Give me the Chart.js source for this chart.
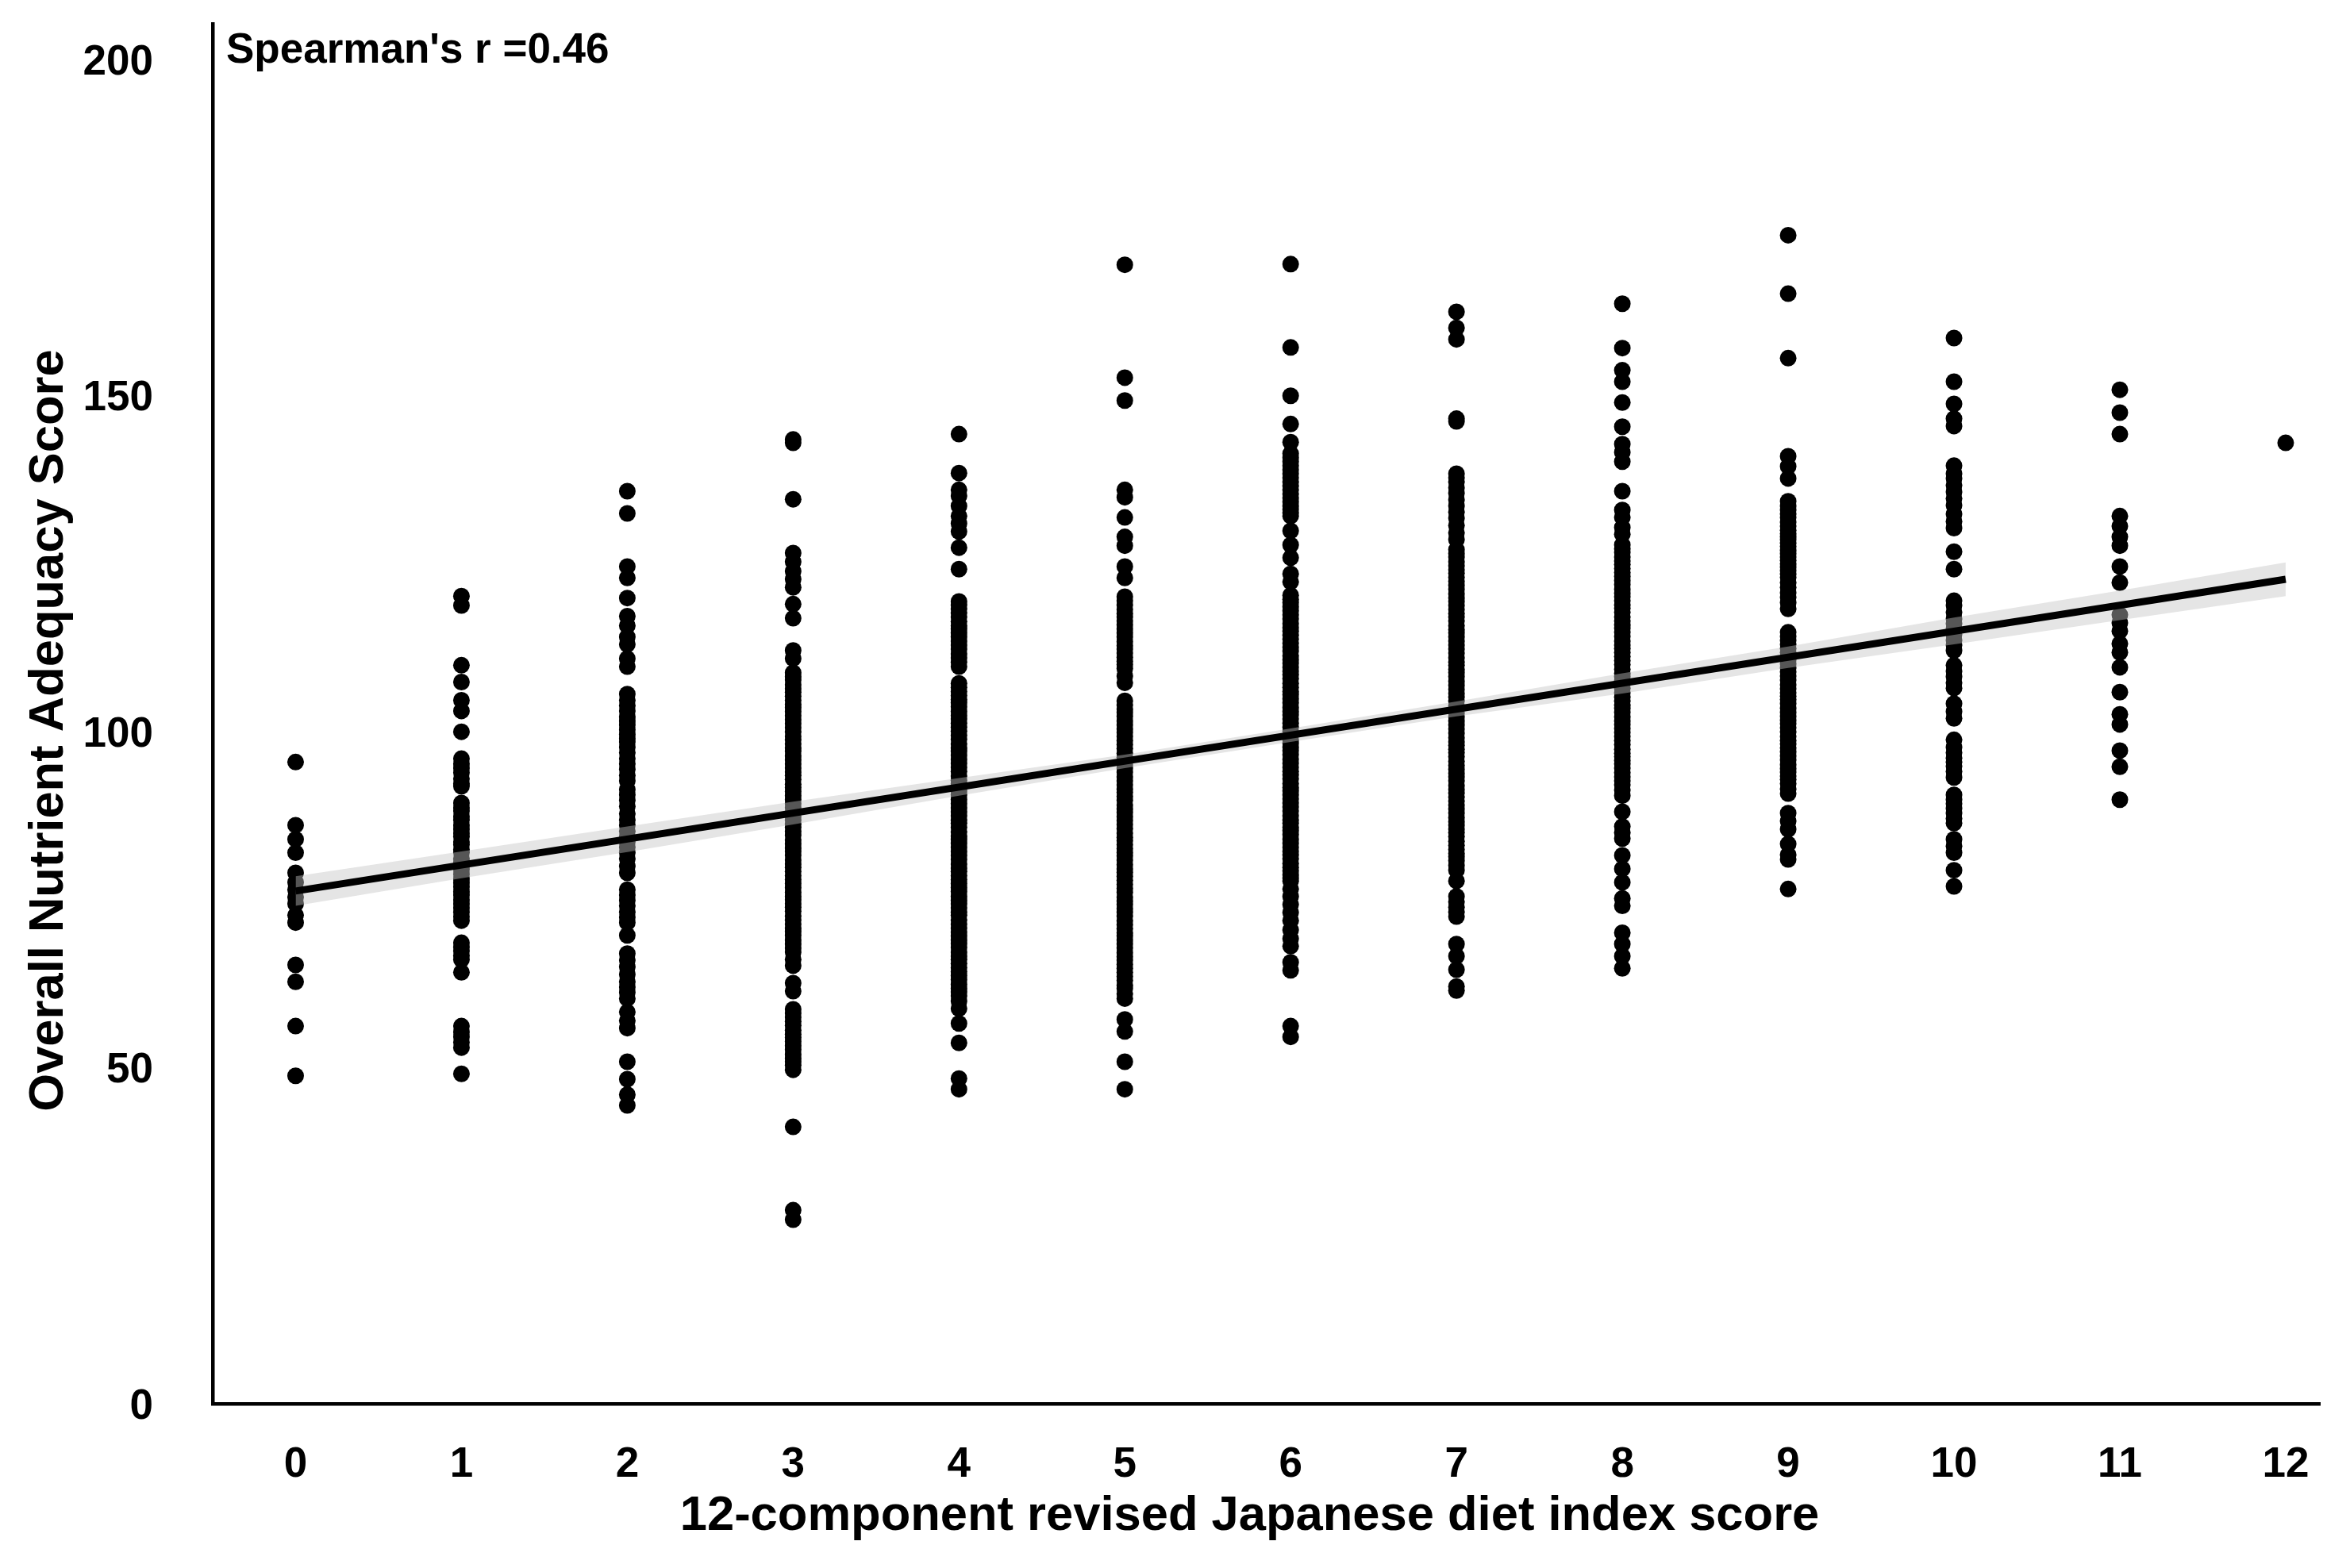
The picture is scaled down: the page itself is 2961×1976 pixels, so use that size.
<!DOCTYPE html>
<html>
<head>
<meta charset="utf-8">
<title>Nutrient adequacy vs diet index</title>
<script src="https://cdn.jsdelivr.net/npm/chart.js@4"></script>
<style>
    html, body { margin: 0; padding: 0; background: #fff; }
    canvas { display: block; }
</style>
</head>
<body>
<canvas id="scoreChart" width="2961" height="1976"></canvas>
<script>
// values, one list per diet index score
const score0 = [95.5, 86.1, 84, 82, 79, 77.6, 76.5, 75.4, 74.4, 72.7, 71.6, 65.3, 62.8, 56.2, 48.8];
const score1 = [120.2, 118.8, 109.9, 107.4, 104.7, 103.1, 100, 96, 95.2, 94.6, 93.9, 93, 92.3, 91.9, 89.4, 88.7, 88.2, 87.4, 86.9, 86.1, 85.5, 84.9, 84.4, 83.6, 83.2, 82.5, 82, 81.1, 80.6, 80, 79.5, 78.8, 78.1, 77.5, 76.9, 76.2, 75.7, 75, 74.4, 73.8, 73.2, 72.5, 71.9, 68.6, 68, 67.4, 66.7, 66.1, 64.2, 56.2, 55.3, 54.6, 53.8, 53, 49.1];
const score2 = [135.8, 132.5, 124.6, 122.9, 119.9, 117.2, 115.8, 114.1, 113, 110.9, 109.7,
    105.6, 104.7, 103.9, 103.1, 102.2, 101.6, 101, 100.3, 99.6, 99, 98.5, 97.7, 96.9, 96, 95.2, 94.4, 93.5, 92.7, 91.4, 90.6, 89.8, 88.9, 87.8, 86.9, 86.1, 85.2, 84.4, 83.6, 82.8, 82, 81.1, 80, 79, 76.5, 75.7, 74.9, 74.1, 73.2, 72.4, 71.6, 69.7, 67, 66, 65, 63.9, 62.8, 62, 61.2, 60.3, 58.3, 57, 55.9, 50.9, 48.3, 46, 44.4];
const score3 = [143.5, 143, 134.6, 126.6, 125.3, 123.9, 122.7, 121.5, 119, 116.9, 112.1, 110.9,
    108.8, 108.2, 107.7, 107, 106.4, 105.9, 105.3, 104.7, 104.1, 103.6, 103, 102.4, 101.8, 101.2, 100.6, 100, 99.3, 98.8, 98.2, 97.6, 97.1, 96.4, 95.8, 95.2, 94.6, 94, 93.5, 92.9, 92.2, 91.7, 91.1, 90.5, 89.9, 89.3, 88.7, 88, 87.4, 86.9, 86.3, 85.8, 85.2, 84.6, 83.9, 83.3, 82.7, 82.2, 81.6, 80.9, 80.3, 79.8, 79.2, 78.6, 78, 77.4, 76.8, 76.1, 75.5, 75, 74.4, 73.9, 73.3, 72.6, 72, 71.4, 70.8, 70.3, 69.7, 69, 68.4, 67.8, 67.2, 66.1, 65.2,
    62.6, 61.4, 58.7, 58.1, 57.5, 56.9, 56.3, 55.6, 55, 54.5, 53.9, 53.3, 52.7, 52, 51.4, 50.9, 50.4, 49.7, 41.2, 28.8, 27.4];
const score4 = [144.3, 138.5, 136, 135.1, 133.6, 132.1, 131, 129.8, 127.4, 124.2,
    119.4, 118.9, 118.3, 117.7, 117.1, 116.4, 115.8, 115.3, 114.7, 114.1, 113.5, 112.9, 112.3, 111.6, 111, 110.4, 109.7,
    107.2, 106.6, 106, 105.4, 104.8, 104.3, 103.7, 103, 102.4, 101.9, 101.3, 100.7, 100.1, 99.5, 98.9, 98.2, 97.6, 97.1, 96.5, 95.9, 95.3, 94.7, 94.1, 93.4, 92.8, 92.3, 91.7, 91.2, 90.6, 89.9, 89.3, 88.7, 88.1, 87.5, 86.9, 86.4, 85.8, 85.1, 84.5, 84, 83.4, 82.8, 82.2, 81.6, 81, 80.3, 79.7, 79.2, 78.6, 78, 77.4, 76.8, 76.2, 75.5, 74.9, 74.4, 73.8, 73.2, 72.7, 72, 71.4, 70.8, 70.2, 69.6, 69, 68.5, 67.9, 67.2, 66.6, 66.1, 65.5, 64.9, 64.3, 63.7, 63.1, 62.4, 61.8, 61.3, 60.7, 59.9, 58.8, 56.6, 53.7, 48.4, 46.8];
const score5 = [169.5, 152.7, 149.3, 136, 134.9, 131.9, 129, 127.7, 124.6, 122.9,
    120.1, 119.5, 118.9, 118.2, 117.6, 117.1, 116.5, 115.9, 115.3, 114.7, 114.1, 113.4, 112.8, 112.3, 111.7, 111.1, 110.5, 110, 109.4, 108.3, 107.3,
    104.6, 104, 103.4, 102.9, 102.3, 101.6, 101, 100.4, 99.9, 99.3, 98.7, 98.1, 97.5, 96.8, 96.2, 95.7, 95.1, 94.6, 94, 93.3, 92.7, 92.1, 91.5, 91, 90.4, 89.8, 89.1, 88.5, 88, 87.4, 86.8, 86.2, 85.6, 84.9, 84.3, 83.8, 83.2, 82.6, 82, 81.5, 80.9, 80.2, 79.6, 79.1, 78.5, 77.9, 77.3, 76.7, 76.1, 75.4, 74.8, 74.3, 73.7, 73.2, 72.6, 71.9, 71.3, 70.7, 70.1, 69.6, 69, 68.4, 67.8, 67.1, 66.5, 66, 65.4, 64.8, 64.2, 63.6, 63, 62.3, 61.8, 61, 60.3, 57.2, 55.4, 50.9, 46.8];
const score6 = [169.6, 157.2, 150, 145.8, 143.1, 141.4, 140.8, 140.2, 139.6, 139, 138.4, 137.8, 137.2, 136.6, 136, 135.4, 134.8, 134.2, 133.6, 133.1, 132.6, 132.1, 129.9, 127.8, 125.9, 123.5, 122.3,
    120.3, 119.7, 119.2, 118.6, 118, 117.4, 116.8, 116.1, 115.5, 115, 114.4, 113.8, 113.2, 112.6, 112, 111.3, 110.7, 110.2, 109.6, 109, 108.5, 107.9, 107.2, 106.6, 106, 105.5, 104.9, 104.3, 103.6, 103, 102.5, 101.9, 101.3, 100.7, 100.1, 99.4, 98.8, 98.3, 97.7, 97.2, 96.6, 95.9, 95.3, 94.7, 94.1, 93.6, 93, 92.3, 91.7, 91.2, 90.6, 90, 89.4, 88.8, 88.2, 87.5, 86.9, 86.4, 85.8, 85.3, 84.7, 84, 83.4, 82.8, 82.2, 81.7, 81.1, 80.4, 79.8, 79.3, 78.7, 78.2, 77.8, 76.6, 75.5, 74.3, 73.1, 71.9, 70.5, 69.2, 68.1, 65.7, 64.5, 56.2, 54.6];
const score7 = [162.5, 160.1, 158.4, 146.6, 146.2, 138.4, 137.8, 137.2, 136.3, 135.5, 134.5, 133.6, 132.7, 131.8, 130.7, 129.6, 128.6,
    127.1, 126.5, 126, 125.3, 124.7, 124.1, 123.6, 123, 122.4, 121.8, 121.2, 120.5, 119.9, 119.4, 118.8, 118.2, 117.6, 117.1, 116.5, 115.8, 115.2, 114.7, 114.1, 113.5, 112.9, 112.3, 111.7, 111, 110.4, 109.9, 109.3, 108.8, 108.2, 107.5, 106.9, 106.3, 105.7, 105.2, 104.6, 103.9, 103.3, 102.8, 102.2, 101.6, 101, 100.4, 99.8, 99.1, 98.5, 98, 97.4, 96.9, 96.3, 95.6, 95, 94.4, 93.8, 93.3, 92.7, 92, 91.4, 90.9, 90.3, 89.7, 89.1, 88.5, 87.9, 87.2, 86.6, 86.1, 85.5, 85, 84.4, 83.7, 83.1, 82.5, 81.9, 81.4, 80.8, 80.1, 79.4, 77.8, 75.5, 74.7, 73.9, 73.2, 72.5, 68.4, 66.6, 64.6, 62.1, 61.5];
const score8 = [163.7, 157.1, 153.8, 152.1, 149, 145.4, 142.8, 141.6, 140.2, 135.8, 133, 131.9, 130.4, 129.4,
    127.8, 127.2, 126.7, 126, 125.4, 124.9, 124.3, 123.7, 123.1, 122.5, 121.9, 121.2, 120.6, 120.1, 119.5, 118.9, 118.4, 117.8, 117.1, 116.5, 115.9, 115.4, 114.8, 114.2, 113.5, 112.9, 112.4, 111.8, 111.2, 110.6, 110, 109.3, 108.7, 108.2, 107.6, 107.1, 106.5, 105.8, 105.2, 104.6, 104, 103.5, 102.9, 102.2, 101.6, 101.1, 100.5, 99.9, 99.3, 98.7, 98.1, 97.4, 96.8, 96.3, 95.7, 95.2, 94.6, 93.9, 93.3, 92.7, 92.1, 91.3, 90.5,
    88.1, 85.9, 85, 84.1, 81.6, 79.6, 77.6, 75.2, 74.1, 70.1, 68.4, 66.6, 64.8];
const score9 = [173.9, 165.2, 155.6, 141, 139.5, 137.7, 134.3, 133.6, 133, 132.4, 131.9, 131.2, 130.6, 130, 129.5, 129, 128.6, 128.1, 127.6, 127, 126.5, 126, 125.5, 125, 124.5, 124, 123.5, 123, 122.2, 121.5, 120.7, 120, 119.2, 118.3,
    114.8, 114.2, 113.6, 113, 112.4, 111.8, 111.2, 110.7, 110.1, 109.5, 108.9, 108.3, 107.7, 107, 106.4, 105.8, 105.3, 104.8, 104.2, 103.5, 102.9, 102.3, 101.7, 101.2, 100.6, 100, 99.3, 98.7, 98.2, 97.6, 97, 96.4, 95.8, 95.1, 94.5, 94, 93.4, 92.9, 92.3, 91.5, 90.8, 87.9, 86.7, 85.5, 83.3, 81.7, 81, 76.6];
const score10 = [158.6, 152.1, 148.8, 146.6, 145.5, 139.6, 138.4, 137.7, 136.7, 135.7, 134.7, 133.7, 132.4, 131.3, 130.3, 126.8, 124.2, 119.5, 118.8, 117.8, 116.8, 116.1, 115.3, 114.5, 113.6, 112.9, 112.1, 109.9, 109, 108.2, 107.3, 106.5, 104.2, 103, 102, 98.8, 97.7, 96.9, 96.1, 95.5, 94.9, 94.1, 93.2, 90.6, 89.9, 89.3, 88.6, 87.9, 87.1, 86.4, 84, 83, 82, 79.4, 77];
const score11 = [150.9, 147.5, 144.3, 132.1, 130.6, 129, 127.7, 124.6, 122.2, 117.4, 116.2, 115, 113.1, 111.8, 109.6, 105.9, 102.6, 101.1, 97.2, 94.8, 89.9];
const score12 = [143];
const scoreColumns = [score0, score1, score2, score3, score4, score5, score6, score7, score8, score9, score10, score11, score12];

// regression line and its confidence band
const fitX = [0, 12];
const fitY = [76.3, 122.7];
const bandX = [0, 1, 2, 3, 4, 5, 6, 7, 8, 9, 10, 11, 12];
const bandUpper = [78.5, 82.2, 85.9, 89.6, 93.1, 96.6, 100.5, 104.5, 108.7, 112.7, 117, 121, 125.2];
const bandLower = [74.1, 78.2, 82.1, 86.2, 90.5, 94.6, 98.5, 102.3, 105.7, 109.5, 113, 116.6, 120.2];

const xTicks = [0, 1, 2, 3, 4, 5, 6, 7, 8, 9, 10, 11, 12];
const yTicks = [0, 50, 100, 150, 200];
const xTitle = '12-component revised Japanese diet index score';
const yTitle = 'Overall Nutrient Adequacy Score';
const note = "Spearman's r =0.46";

const FONT = '"Liberation Sans", Arial, sans-serif';

const points = scoreColumns.flatMap((col, i) => col.map(v => ({ x: i, y: v })));

// the note and the axis titles: the titles sit off the axis centres, which scale titles cannot do
const textPlugin = {
    id: 'chartText',
    afterDraw(chart) {
        const ctx = chart.ctx;
        const area = chart.chartArea;
        ctx.save();
        ctx.fillStyle = '#000';
        ctx.textBaseline = 'middle';

        ctx.font = 'bold 53px ' + FONT;
        ctx.textAlign = 'left';
        ctx.fillText(note, area.left + 17, 64);

        ctx.font = 'bold 61.5px ' + FONT;
        ctx.textAlign = 'center';
        ctx.fillText(xTitle, (area.left + area.right) / 2 - 21, 1911);

        ctx.translate(62, (area.top + area.bottom) / 2 + 21);
        ctx.rotate(-Math.PI / 2);
        ctx.fillText(yTitle, 0, 0);
        ctx.restore();
    }
};

new Chart(document.getElementById('scoreChart').getContext('2d'), {
    type: 'scatter',
    data: {
        datasets: [
            {
                type: 'line',
                label: 'fit',
                data: fitX.map((x, i) => ({ x: x, y: fitY[i] })),
                borderColor: '#000',
                borderWidth: 9,
                pointRadius: 0,
                fill: false,
                order: 1
            },
            {
                type: 'line',
                label: 'upper',
                data: bandX.map((x, i) => ({ x: x, y: bandUpper[i] })),
                borderWidth: 0,
                pointRadius: 0,
                fill: '+1',
                backgroundColor: 'rgba(195, 195, 195, 0.44)',
                order: 2
            },
            {
                type: 'line',
                label: 'lower',
                data: bandX.map((x, i) => ({ x: x, y: bandLower[i] })),
                borderWidth: 0,
                pointRadius: 0,
                fill: false,
                order: 2
            },
            {
                label: 'scores',
                data: points,
                backgroundColor: '#000',
                borderWidth: 0,
                pointRadius: 10.5,
                order: 3
            }
        ]
    },
    options: {
        responsive: false,
        animation: false,
        layout: { padding: { top: 30, right: 38, left: 0, bottom: 0 } },
        plugins: { legend: { display: false }, tooltip: { enabled: false } },
        scales: {
            x: {
                type: 'linear',
                min: -0.5,
                max: 12.206,
                afterBuildTicks: scale => { scale.ticks = xTicks.map(v => ({ value: v })); },
                afterFit: scale => {
                    scale.height = 207;
                    scale.paddingLeft = 0;
                    scale.paddingRight = 0;
                },
                grid: { display: false, drawTicks: false },
                border: { color: '#000', width: 4.5 },
                ticks: {
                    color: '#000',
                    padding: 46,
                    maxRotation: 0,
                    autoSkip: false,
                    font: { family: FONT, size: 53, weight: 'bold' }
                }
            },
            y: {
                type: 'linear',
                min: 0,
                max: 205.36,
                afterBuildTicks: scale => { scale.ticks = yTicks.map(v => ({ value: v })); },
                afterFit: scale => {
                    scale.width = 268;
                    scale.paddingTop = 0;
                    scale.paddingBottom = 0;
                },
                grid: { display: false, drawTicks: false },
                border: { color: '#000', width: 4.5 },
                ticks: {
                    color: '#000',
                    padding: 75,
                    labelOffset: 4,
                    autoSkip: false,
                    font: { family: FONT, size: 53, weight: 'bold' }
                }
            }
        }
    },
    plugins: [textPlugin]
});
</script>
</body>
</html>
